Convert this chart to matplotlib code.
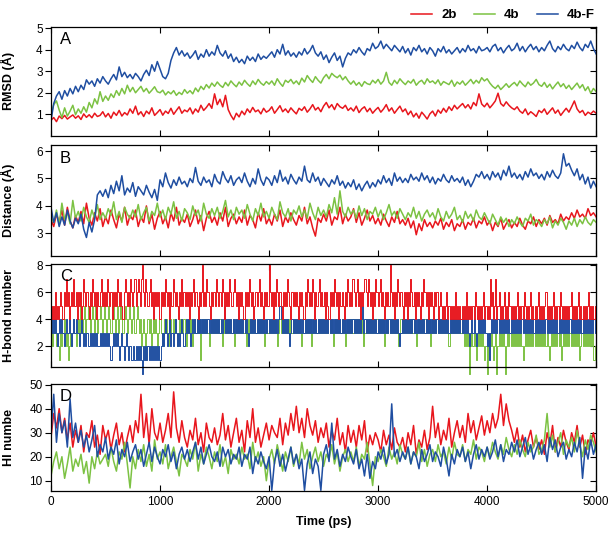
import numpy as np
import matplotlib
matplotlib.use("Agg")
import matplotlib.pyplot as plt

plt.rcParams["font.family"] = ["Liberation Sans", "DejaVu Sans"]

# time axes: 25 ps samples for A, B, D; 10 ps samples for the H-bond counts
time_ps = np.arange(0, 5001, 25)
time_hb = np.arange(0, 5001, 10)

colors = {"2b": "#e8161d", "4b": "#7cc243", "4b-F": "#1f4ea1"}

# -------------------------
# A) RMSD (A)
# -------------------------
rmsd_2b = [
    0.72, 0.85, 0.66, 0.92, 0.80, 0.95, 0.78, 0.88, 0.97, 0.82,
    0.93, 0.76, 1.02, 0.86, 0.98, 0.84, 1.05, 0.90, 0.95, 1.12,
    0.88, 1.04, 0.82, 1.10, 0.95, 1.18, 0.92, 1.08, 0.97, 1.25,
    1.05, 1.38, 0.98, 1.12, 0.90, 1.15, 1.02, 1.30, 0.95, 1.08,
    1.22, 0.96, 1.15, 1.04, 1.28, 1.00, 1.18, 1.35, 1.05, 1.20,
    1.12, 1.30, 1.02, 1.25, 1.10, 1.42, 1.18, 1.32, 1.50, 1.28,
    1.95, 1.45, 1.70, 1.35, 1.88, 1.22, 0.95, 0.75, 1.05, 0.88,
    1.15, 0.98, 1.25, 1.08, 1.32, 1.12, 1.20, 1.02, 1.28, 1.10,
    1.18, 1.35, 1.05, 1.22, 1.40, 1.12, 1.25, 1.08, 1.30, 1.15,
    1.02, 1.28, 1.18, 1.35, 1.10, 1.25, 1.45, 1.20, 1.32, 1.12,
    1.38, 1.55, 1.30, 1.45, 1.22, 1.50, 1.35, 1.28, 1.42, 1.18,
    1.30, 1.15, 1.38, 1.08, 1.25, 1.35, 1.12, 1.28, 1.05, 1.20,
    1.32, 1.10, 1.25, 1.45, 1.15, 1.30, 1.05, 1.22, 1.38, 1.12,
    1.25, 0.98, 1.15, 0.88, 1.05, 0.82, 1.10, 0.95, 0.78, 1.02,
    1.15, 0.92, 1.20, 1.05, 1.28, 1.10, 1.35, 1.18, 1.42, 1.25,
    1.38, 1.50, 1.30, 1.45, 1.25, 1.55, 1.40, 1.95, 1.48, 1.35,
    1.52, 1.30, 1.45, 1.62, 1.98, 1.50, 1.38, 1.58, 1.42, 1.30,
    1.22, 1.35, 1.15, 1.05, 1.25, 0.98, 1.12, 1.02, 0.90, 1.18,
    1.08, 1.25, 1.00, 1.15, 1.30, 1.05, 1.20, 0.95, 1.12, 1.28,
    1.10, 1.35, 1.62, 1.25, 1.08, 1.18, 0.95, 1.10, 1.02, 1.15,
    1.05,
]
rmsd_4b = [
    1.00, 1.45, 1.62, 1.20, 0.85, 1.30, 0.92, 1.15, 1.42, 0.98,
    1.25, 1.05, 1.35, 1.10, 1.55, 1.30, 1.72, 1.48, 2.05, 1.60,
    1.85, 1.65, 1.95, 1.78, 2.10, 1.88, 2.20, 1.95, 2.35, 2.05,
    2.25, 2.00, 2.15, 2.30, 2.05, 2.20, 1.98, 2.12, 2.28, 2.05,
    2.00, 2.12, 1.90, 2.05, 1.95, 2.10, 1.88, 2.02, 1.92, 2.15,
    1.98, 2.10, 1.95, 2.22, 2.05, 2.30, 2.15, 2.38, 2.22, 2.45,
    2.30, 2.50, 2.35, 2.25, 2.48, 2.32, 2.55, 2.40, 2.28, 2.50,
    2.35, 2.58, 2.42, 2.30, 2.55, 2.38, 2.62, 2.45, 2.35, 2.52,
    2.40, 2.55, 2.35, 2.65, 2.45, 2.30, 2.58, 2.48, 2.62, 2.42,
    2.55, 2.38, 2.68, 2.50, 2.80, 2.62, 2.48, 2.75, 2.58, 2.45,
    2.70, 2.85, 2.65, 2.90, 2.78, 2.70, 2.82, 2.60, 2.75, 2.55,
    2.40, 2.55, 2.35, 2.48, 2.30, 2.52, 2.42, 2.38, 2.58, 2.45,
    2.62, 2.40, 2.55, 2.95, 2.48, 2.35, 2.58, 2.42, 2.65, 2.50,
    2.38, 2.55, 2.45, 2.62, 2.35, 2.50, 2.58, 2.40, 2.65, 2.48,
    2.55, 2.42, 2.60, 2.35, 2.52, 2.45, 2.38, 2.58, 2.30, 2.50,
    2.40, 2.55, 2.35, 2.48, 2.62, 2.42, 2.58, 2.45, 2.70, 2.55,
    2.65, 2.45, 2.30, 2.20, 2.35, 2.15, 2.28, 2.42, 2.25, 2.38,
    2.48, 2.32, 2.55, 2.40, 2.28, 2.50, 2.35, 2.45, 2.62, 2.38,
    2.30, 2.48, 2.25, 2.40, 2.18, 2.35, 2.50, 2.28, 2.42, 2.20,
    2.35, 2.15, 2.30, 2.45, 2.22, 2.38, 2.10, 2.28, 1.98, 2.20,
    2.05,
]
rmsd_4bF = [
    0.70, 1.50, 1.85, 2.05, 1.70, 2.10, 1.85, 2.20, 1.95, 2.30,
    2.05, 2.35, 2.15, 2.60, 2.40, 2.55, 2.30, 2.65, 2.45, 2.75,
    2.55, 2.40, 2.65, 2.85, 2.60, 3.20, 2.75, 2.95, 2.70, 2.85,
    2.65, 2.90, 2.75, 2.55, 2.85, 3.05, 2.80, 3.30, 3.00, 3.45,
    3.10, 2.75, 2.65, 2.90, 3.50, 3.85, 4.10, 3.75, 3.95, 3.70,
    3.85, 3.60, 3.75, 3.95, 3.55, 3.80, 3.65, 4.00, 3.70, 3.90,
    3.75, 4.20, 3.85, 3.70, 3.95, 3.60, 3.80, 3.45, 3.65, 3.40,
    3.55, 3.35, 3.70, 3.50, 3.65, 3.45, 3.80, 3.55, 3.70, 3.60,
    3.75, 3.90, 3.65, 4.00, 3.80, 4.25, 3.75, 3.95, 3.70, 3.85,
    3.65, 3.90, 3.75, 4.05, 3.80, 3.95, 4.20, 3.85, 3.70, 3.90,
    3.55, 3.75, 3.40, 3.65, 3.85, 3.50, 3.70, 3.20, 3.60, 3.85,
    3.75, 4.00, 3.85, 4.10, 3.90, 3.75, 4.05, 3.95, 4.30, 4.05,
    4.15, 4.40, 4.05, 4.25, 4.10, 3.95, 4.20, 4.05, 3.90, 4.15,
    3.85, 4.05, 3.75, 4.10, 3.95, 4.20, 3.90, 4.05, 3.80, 4.10,
    3.95, 3.70, 4.05, 3.90, 4.15, 3.85, 4.00, 3.80, 3.95, 4.10,
    3.85, 4.05, 3.90, 4.20, 3.95, 4.05, 3.85, 4.15, 3.95, 4.00,
    4.10, 3.90, 4.15, 4.25, 3.95, 4.10, 3.85, 4.05, 4.20, 3.95,
    4.05, 4.30, 3.95, 4.15, 3.90, 4.10, 4.25, 4.00, 4.15, 3.90,
    4.10, 3.95, 4.20, 4.40, 4.05, 3.90, 4.15, 4.00, 4.25, 4.05,
    3.95, 4.20, 4.05, 4.35, 4.10, 3.95, 4.25, 4.10, 4.40, 4.05,
    3.80,
]

# -------------------------
# B) Distance (A)
# -------------------------
dist_2b = [
    3.50, 3.25, 3.70, 3.40, 3.85, 3.30, 3.95, 3.45, 3.20, 3.65,
    3.40, 3.80, 3.35, 4.10, 3.55, 3.30, 3.75, 3.45, 3.90, 3.25,
    3.60, 3.35, 3.85, 3.50, 3.20, 3.70, 3.45, 3.95, 3.30, 3.65,
    3.50, 3.85, 3.25, 3.60, 3.40, 4.00, 3.35, 3.70, 3.15, 3.55,
    3.80, 3.35, 3.60, 3.20, 3.75, 3.45, 3.95, 3.30, 3.55, 3.40,
    3.70, 3.25, 3.50, 3.85, 3.35, 3.65, 3.10, 3.55, 3.80, 3.40,
    3.60, 3.30, 3.75, 3.45, 3.95, 3.25, 3.55, 3.70, 3.35, 3.60,
    3.40, 3.85, 3.30, 3.65, 3.50, 3.20, 3.75, 3.45, 3.90, 3.35,
    3.55, 3.30, 3.70, 3.45, 3.85, 3.25, 3.60, 3.40, 3.75, 3.50,
    3.30, 3.65, 3.45, 3.95, 3.35, 3.60, 3.20, 2.90, 3.55, 3.40,
    3.70, 3.45, 3.85, 3.30, 3.60, 3.50, 3.95, 3.35, 3.70, 3.45,
    3.60, 3.90, 3.40, 3.75, 3.30, 3.55, 3.85, 3.45, 3.65, 3.35,
    3.55, 3.30, 3.70, 3.45, 3.25, 3.60, 3.40, 3.80, 3.35, 3.50,
    3.30, 3.55, 3.20, 3.45, 2.95, 3.35, 3.10, 3.50, 3.25, 3.40,
    3.20, 3.45, 3.30, 3.55, 3.15, 3.40, 3.25, 3.50, 3.10, 3.35,
    3.25, 3.50, 3.15, 3.40, 3.30, 3.55, 3.20, 3.45, 3.35, 3.60,
    3.30, 3.45, 3.10, 3.40, 3.25, 3.55, 3.15, 3.35, 3.50, 3.20,
    3.40, 3.25, 3.55, 3.30, 3.15, 3.45, 3.35, 3.60, 3.25, 3.50,
    3.35, 3.55, 3.30, 3.65, 3.40, 3.50, 3.35, 3.70, 3.45, 3.60,
    3.50, 3.75, 3.55, 3.85, 3.60, 3.70, 3.55, 3.90, 3.65, 3.75,
    3.60,
]
dist_4b = [
    3.60, 3.40, 3.85, 3.30, 4.10, 3.50, 3.75, 3.35, 4.20, 3.55,
    3.80, 3.45, 3.95, 3.60, 3.40, 3.85, 3.55, 4.05, 3.50, 3.75,
    3.55, 3.90, 3.65, 4.15, 3.50, 3.80, 3.40, 3.95, 3.70, 3.55,
    3.85, 3.60, 4.05, 3.50, 3.75, 3.95, 3.45, 3.80, 3.65, 4.10,
    3.60, 3.85, 3.50, 3.95, 3.70, 4.15, 3.55, 3.80, 3.45, 3.90,
    3.75, 3.50, 4.00, 3.65, 3.85, 3.45, 4.10, 3.70, 3.55, 3.90,
    3.65, 3.95, 3.55, 3.80, 4.20, 3.60, 3.85, 3.50, 3.95, 3.70,
    3.85, 3.55, 4.05, 3.70, 3.45, 3.90, 3.65, 4.10, 3.60, 3.80,
    3.55, 3.95, 3.70, 3.50, 4.15, 3.75, 3.60, 3.90, 3.45, 3.85,
    3.70, 4.00, 3.60, 3.85, 3.55, 4.10, 3.75, 3.50, 3.95, 3.65,
    3.85, 3.60, 4.05, 3.75, 4.30, 3.70, 4.55, 3.80, 3.60, 3.95,
    3.70, 3.85, 3.55, 4.00, 3.65, 3.90, 3.50, 3.80, 3.70, 3.95,
    3.60, 3.85, 3.50, 3.75, 4.05, 3.65, 3.80, 3.55, 3.90, 3.70,
    3.50, 3.75, 3.60, 3.95, 3.55, 3.80, 3.45, 3.70, 3.85, 3.60,
    3.75, 3.50, 3.90, 3.60, 3.45, 3.80, 3.55, 3.70, 3.95, 3.50,
    3.65, 3.40, 3.80, 3.55, 3.70, 3.45, 3.85, 3.60, 3.50, 3.75,
    3.55, 3.35, 3.70, 3.50, 3.30, 3.60, 3.40, 3.55, 3.25, 3.50,
    3.35, 3.60, 3.40, 3.25, 3.55, 3.45, 3.70, 3.30, 3.50, 3.40,
    3.25, 3.50, 3.35, 3.60, 3.20, 3.45, 3.30, 3.55, 3.40, 3.15,
    3.45, 3.30, 3.55, 3.25, 3.50, 3.35, 3.60, 3.40, 3.30, 3.50,
    3.40,
]
dist_4bF = [
    3.95, 3.40, 3.75, 3.25, 3.60, 3.30, 3.85, 3.45, 3.20, 3.55,
    3.35, 3.70, 3.15, 2.85, 3.40, 3.05, 3.50, 4.40, 4.55, 4.35,
    4.60, 4.30, 4.75, 4.45, 4.90, 4.55, 5.10, 4.40, 4.65, 4.50,
    4.85, 4.35, 4.70, 4.55, 4.40, 4.75, 4.50, 4.30, 4.60, 4.20,
    4.95, 4.70, 5.20, 4.85, 4.65, 4.95, 4.75, 5.05, 4.80, 4.90,
    4.70, 5.00, 4.85, 5.40, 4.90, 4.75, 5.05, 4.85, 4.95, 4.70,
    5.15, 4.90, 4.80, 5.25, 5.00, 4.85, 5.10, 4.75, 4.95, 5.05,
    4.85, 5.20, 4.90, 4.70, 5.00, 4.80, 5.35, 4.95, 4.75, 5.05,
    4.95, 4.75, 5.10, 4.85, 5.30, 4.90, 5.05, 4.80, 5.15, 4.95,
    4.80, 5.05, 4.90, 5.45, 4.95, 4.85, 5.20, 4.90, 5.05, 4.75,
    5.00, 4.85, 4.70, 4.95, 4.80, 5.10, 4.75, 4.90, 4.65, 4.85,
    4.70, 4.95, 4.60, 4.80, 4.55, 4.75, 4.90, 4.65, 4.85, 4.70,
    4.95, 4.80, 5.10, 4.85, 5.00, 4.75, 5.20, 4.90, 5.05, 4.85,
    5.00, 4.85, 5.15, 4.95, 5.05, 4.90, 5.20, 4.95, 5.10, 4.85,
    5.05, 4.80, 5.00, 4.90, 5.15, 4.95, 4.85, 5.10, 4.90, 5.00,
    4.85, 5.05, 4.75, 4.95, 4.70, 4.90, 5.15, 5.05, 5.25, 5.00,
    5.15, 4.95, 5.25, 5.05, 5.20, 4.95, 5.30, 5.10, 5.45, 5.05,
    5.20, 5.00, 5.15, 4.95, 5.25, 5.05, 5.35, 5.10, 5.20, 5.00,
    5.15, 4.95, 5.25, 5.05, 5.30, 5.10, 5.00, 5.20, 5.90, 5.45,
    5.55, 5.30, 5.10, 5.35, 4.95, 5.15, 4.80, 5.05, 4.65, 4.90,
    4.70,
]

# -------------------------
# C) H-bond number (10 ps samples, 25 per row = 250 ps)
# -------------------------
hb_2b = [
    5, 4, 5, 4, 6, 4, 5, 4, 5, 6, 5, 4, 6, 5, 7, 5, 6, 4, 5, 6, 5, 7, 5, 6, 4,
    6, 5, 6, 4, 5, 7, 6, 5, 6, 5, 4, 6, 5, 7, 6, 5, 6, 4, 6, 5, 6, 7, 5, 6, 5,
    6, 5, 7, 6, 5, 6, 4, 6, 5, 6, 5, 7, 6, 5, 6, 5, 4, 6, 7, 6, 5, 6, 5, 7, 6,
    5, 6, 7, 5, 6, 7, 6, 5, 7, 8, 6, 5, 7, 6, 5, 6, 7, 5, 6, 4, 6, 5, 6, 5, 6,
    4, 6, 5, 6, 5, 7, 6, 5, 6, 4, 6, 5, 7, 6, 5, 6, 5, 4, 6, 5, 7, 5, 6, 5, 6,
    5, 6, 4, 6, 5, 6, 7, 5, 6, 5, 4, 6, 5, 6, 8, 5, 6, 5, 7, 6, 5, 4, 6, 5, 6,
    6, 5, 7, 6, 5, 6, 5, 7, 6, 4, 6, 5, 6, 5, 7, 6, 5, 6, 7, 6, 5, 6, 4, 6, 5,
    6, 5, 4, 6, 5, 6, 5, 7, 6, 5, 6, 4, 5, 6, 5, 6, 7, 5, 6, 5, 4, 6, 5, 6, 5,
    8, 6, 5, 6, 4, 6, 5, 7, 6, 5, 6, 5, 4, 6, 5, 6, 5, 7, 6, 5, 4, 6, 5, 6, 5,
    6, 5, 4, 6, 5, 6, 5, 4, 6, 5, 7, 6, 5, 6, 5, 7, 6, 4, 6, 5, 6, 7, 5, 6, 5,
    5, 6, 4, 6, 5, 4, 6, 5, 6, 5, 7, 6, 5, 6, 4, 6, 5, 6, 5, 4, 6, 5, 7, 6, 5,
    6, 5, 7, 6, 5, 6, 7, 5, 6, 4, 6, 5, 6, 7, 6, 5, 7, 6, 5, 6, 4, 6, 5, 7, 6,
    5, 6, 7, 5, 6, 5, 4, 6, 5, 6, 5, 8, 6, 5, 6, 4, 6, 5, 7, 6, 5, 6, 5, 4, 6,
    5, 6, 4, 6, 5, 7, 6, 5, 6, 4, 6, 5, 6, 5, 4, 6, 5, 7, 6, 5, 6, 4, 6, 5, 6,
    5, 4, 6, 5, 6, 4, 5, 6, 5, 4, 5, 4, 5, 6, 4, 5, 4, 5, 4, 5, 4, 6, 4, 5, 4,
    5, 4, 5, 4, 5, 4, 6, 4, 5, 4, 5, 4, 5, 4, 6, 5, 4, 5, 4, 5, 4, 5, 6, 4, 5,
    4, 5, 4, 7, 5, 6, 4, 5, 7, 4, 5, 6, 4, 5, 4, 5, 6, 4, 5, 4, 6, 5, 4, 5, 4,
    5, 4, 5, 6, 4, 5, 4, 5, 4, 6, 5, 4, 5, 4, 5, 6, 4, 5, 4, 5, 4, 5, 6, 4, 5,
    4, 5, 4, 5, 6, 4, 5, 4, 5, 4, 5, 6, 4, 5, 4, 5, 4, 6, 5, 4, 5, 4, 5, 4, 5,
    4, 5, 6, 4, 5, 4, 5, 4, 5, 6, 4, 5, 4, 5, 4, 5, 4, 5, 6, 4, 5, 4, 5, 4, 5,
    4,
]
hb_4b = [
    3, 2, 3, 4, 3, 2, 3, 2, 1, 3, 2, 3, 4, 3, 2, 3, 1, 2, 3, 2, 3, 4, 3, 2, 3,
    4, 3, 5, 4, 3, 4, 5, 3, 4, 5, 4, 3, 4, 5, 4, 3, 5, 4, 3, 4, 5, 4, 3, 4, 5,
    4, 3, 4, 5, 4, 3, 4, 5, 4, 3, 4, 5, 3, 4, 5, 4, 3, 4, 5, 4, 3, 4, 5, 4, 3,
    4, 5, 3, 4, 5, 4, 3, 4, 2, 3, 4, 3, 1, 3, 4, 3, 4, 2, 3, 4, 3, 4, 3, 2, 3,
    4, 3, 2, 3, 4, 3, 4, 3, 2, 3, 4, 3, 4, 3, 4, 3, 2, 3, 4, 3, 4, 3, 4, 3, 2,
    3, 4, 3, 4, 3, 2, 3, 4, 3, 4, 3, 4, 1, 3, 4, 3, 4, 3, 4, 3, 2, 3, 4, 3, 4,
    3, 4, 3, 4, 3, 4, 3, 2, 3, 4, 3, 4, 3, 4, 3, 4, 3, 4, 2, 3, 4, 3, 4, 3, 4,
    3, 4, 3, 4, 2, 3, 4, 3, 4, 3, 4, 3, 4, 3, 4, 3, 4, 3, 4, 3, 4, 2, 3, 4, 3,
    4, 3, 4, 3, 4, 3, 4, 3, 2, 3, 4, 3, 4, 3, 4, 3, 4, 3, 4, 3, 4, 3, 4, 3, 4,
    3, 4, 3, 4, 3, 2, 3, 4, 3, 4, 3, 4, 3, 4, 2, 3, 4, 3, 4, 3, 4, 3, 4, 3, 4,
    3, 4, 3, 4, 3, 4, 3, 4, 3, 2, 3, 4, 3, 4, 3, 4, 3, 4, 3, 4, 2, 3, 4, 3, 4,
    3, 4, 3, 4, 3, 4, 3, 4, 3, 4, 3, 4, 2, 3, 4, 3, 4, 3, 4, 3, 4, 3, 4, 3, 4,
    3, 4, 3, 4, 3, 4, 2, 3, 4, 3, 4, 3, 4, 3, 4, 3, 4, 3, 4, 2, 3, 4, 3, 4, 3,
    4, 3, 4, 3, 4, 3, 4, 3, 4, 3, 2, 3, 4, 3, 4, 3, 4, 3, 4, 3, 4, 3, 4, 2, 3,
    4, 3, 4, 3, 4, 3, 4, 3, 4, 3, 4, 3, 4, 3, 4, 2, 3, 4, 3, 4, 3, 4, 3, 4, 3,
    4, 3, 4, 3, 2, 3, 2, 3, 2, 0, 2, 3, 2, 3, 2, 1, 2, 3, 2, 3, 2, 3, 2, 1, 2,
    0, 2, 3, 2, 3, 2, 1, 2, 3, 0, 2, 3, 2, 3, 2, 3, 2, 0, 2, 3, 2, 3, 2, 3, 2,
    3, 2, 3, 2, 3, 2, 3, 2, 1, 2, 3, 2, 3, 2, 3, 2, 3, 2, 3, 2, 3, 2, 3, 2, 3,
    2, 3, 2, 3, 2, 3, 2, 1, 2, 3, 2, 3, 2, 3, 2, 3, 2, 3, 1, 2, 3, 2, 3, 2, 3,
    2, 3, 2, 3, 2, 3, 2, 3, 2, 3, 1, 2, 3, 2, 3, 2, 3, 2, 3, 2, 3, 2, 3, 1, 2,
    3,
]
hb_4bF = [
    4, 3, 4, 3, 4, 3, 2, 3, 4, 3, 4, 3, 2, 3, 4, 3, 3, 4, 3, 2, 3, 4, 3, 4, 3,
    3, 2, 3, 4, 3, 2, 3, 2, 3, 2, 2, 3, 2, 3, 2, 3, 2, 3, 2, 2, 3, 2, 3, 2, 3,
    2, 3, 2, 3, 2, 1, 2, 3, 2, 3, 2, 3, 2, 1, 2, 3, 2, 1, 2, 3, 2, 1, 2, 2, 1,
    1, 2, 1, 2, 1, 2, 1, 2, 1, 0, 2, 1, 2, 1, 2, 1, 2, 1, 2, 1, 2, 1, 2, 1, 2,
    1, 2, 3, 2, 3, 4, 3, 2, 3, 4, 2, 3, 2, 3, 4, 3, 2, 3, 2, 3, 4, 3, 2, 3, 4,
    3, 4, 3, 2, 3, 4, 3, 4, 3, 4, 3, 4, 3, 4, 3, 4, 3, 4, 3, 4, 3, 4, 3, 4, 3,
    4, 3, 4, 3, 4, 3, 4, 3, 4, 5, 3, 4, 3, 4, 3, 4, 3, 4, 3, 4, 3, 4, 3, 4, 3,
    4, 3, 4, 3, 4, 3, 2, 3, 4, 3, 4, 3, 4, 3, 4, 3, 4, 3, 4, 3, 4, 3, 4, 3, 4,
    3, 4, 3, 4, 3, 4, 3, 4, 3, 4, 5, 4, 3, 4, 3, 4, 3, 4, 3, 2, 3, 4, 3, 4, 3,
    4, 3, 4, 3, 4, 3, 4, 3, 4, 3, 4, 3, 4, 3, 4, 3, 4, 3, 4, 3, 4, 3, 4, 3, 4,
    3, 4, 3, 4, 3, 4, 3, 4, 3, 4, 3, 4, 3, 4, 3, 4, 3, 4, 3, 4, 3, 4, 3, 4, 3,
    4, 3, 4, 3, 4, 3, 4, 3, 4, 3, 4, 5, 3, 4, 3, 4, 3, 4, 3, 4, 3, 4, 3, 4, 3,
    4, 3, 4, 3, 4, 3, 4, 3, 4, 3, 4, 3, 4, 3, 4, 3, 4, 3, 4, 3, 2, 3, 4, 3, 4,
    3, 4, 3, 4, 3, 4, 3, 4, 3, 4, 3, 4, 3, 4, 3, 4, 3, 4, 3, 4, 3, 4, 3, 4, 3,
    4, 3, 4, 3, 4, 3, 4, 3, 4, 3, 4, 3, 4, 3, 4, 3, 4, 3, 4, 3, 4, 3, 4, 3, 4,
    3, 4, 3, 4, 3, 4, 3, 4, 3, 2, 3, 4, 3, 4, 3, 2, 3, 4, 3, 4, 3, 4, 3, 4, 3,
    2, 3, 1, 3, 4, 3, 4, 3, 4, 3, 4, 3, 4, 3, 4, 3, 4, 3, 4, 3, 4, 3, 4, 3, 4,
    3, 4, 3, 4, 3, 4, 3, 4, 3, 4, 3, 4, 3, 4, 3, 4, 3, 4, 3, 4, 3, 4, 3, 4, 3,
    4, 3, 4, 3, 4, 3, 4, 3, 4, 3, 4, 3, 4, 3, 4, 3, 4, 3, 4, 3, 4, 3, 4, 3, 4,
    3, 4, 3, 4, 3, 4, 3, 4, 3, 4, 3, 4, 3, 4, 3, 4, 3, 4, 3, 4, 3, 4, 3, 4, 3,
    4,
]

# -------------------------
# D) HI number
# -------------------------
hi_2b = [
    28, 38, 32, 40, 30, 36, 27, 34, 24, 31,
    26, 33, 22, 30, 28, 35, 24, 29, 21, 33,
    27, 31, 23, 29, 34, 25, 30, 22, 28, 33,
    26, 35, 30, 46, 28, 38, 25, 40, 30, 27,
    34, 26, 31, 38, 28, 47, 32, 26, 35, 28,
    24, 31, 27, 36, 25, 30, 22, 34, 28, 26,
    32, 25, 29, 38, 27, 33, 24, 30, 36, 26,
    31, 22, 35, 28, 40, 26, 32, 24, 29, 34,
    27, 33, 30, 28, 36, 25, 34, 29, 38, 31,
    41, 30, 36, 28, 40, 33, 29, 35, 26, 32,
    28, 34, 24, 31, 27, 36, 25, 30, 22, 33,
    26, 31, 24, 33, 27, 35, 22, 29, 25, 30,
    27, 22, 31, 25, 29, 23, 32, 26, 24, 28,
    22, 30, 25, 33, 21, 27, 24, 31, 23, 28,
    41, 28, 34, 25, 31, 27, 36, 24, 30, 35,
    28, 33, 26, 38, 30, 35, 27, 32, 37, 29,
    35, 30, 38, 32, 36, 46, 33, 42, 35, 31,
    26, 32, 24, 29, 22, 27, 31, 24, 28, 23,
    27, 21, 30, 25, 33, 22, 28, 24, 31, 26,
    23, 30, 26, 33, 24, 29, 21, 27, 25, 30,
    24,
]
hi_4b = [
    12, 18, 22, 15, 20, 11, 17, 24, 14, 19,
    16, 21, 13, 18, 9, 20, 15, 22, 17, 19,
    21, 16, 24, 18, 14, 22, 19, 26, 17, 7,
    20, 15, 23, 18, 25, 16, 21, 14, 27, 19,
    22, 17, 25, 15, 20, 24, 18, 12, 21, 19,
    16, 23, 19, 26, 14, 21, 17, 24, 20, 15,
    22, 18, 25, 16, 20, 13, 23, 19, 21, 17,
    24, 19, 21, 15, 26, 18, 22, 16, 20, 10,
    19, 23, 17, 25, 20, 14, 22, 18, 24, 16,
    21, 17, 26, 19, 23, 15, 20, 24, 18, 22,
    16, 21, 19, 25, 17, 22, 14, 20, 23, 18,
    22, 18, 24, 16, 21, 19, 26, 17, 8, 20,
    18, 23, 20, 16, 24, 19, 22, 17, 25, 21,
    19, 24, 17, 22, 20, 26, 18, 23, 16, 21,
    23, 18, 25, 20, 22, 17, 24, 19, 26, 21,
    20, 25, 18, 23, 21, 27, 19, 24, 22, 18,
    24, 20, 26, 22, 19, 25, 21, 28, 23, 20,
    25, 21, 27, 23, 20, 26, 22, 24, 29, 21,
    23, 27, 38, 24, 29, 22, 26, 30, 21, 27,
    24, 28, 22, 31, 25, 20, 27, 23, 29, 26,
    22,
]
hi_4bF = [
    30, 46, 26, 38, 30, 35, 24, 44, 28, 34,
    26, 31, 24, 29, 22, 27, 33, 20, 25, 22,
    28, 19, 24, 21, 27, 17, 23, 20, 26, 18,
    22, 25, 19, 23, 16, 21, 26, 18, 24, 20,
    17, 23, 20, 25, 18, 22, 15, 21, 24, 19,
    23, 18, 22, 26, 19, 24, 17, 21, 25, 20,
    18, 22, 16, 24, 20, 23, 17, 21, 19, 24,
    16, 21, 19, 24, 13, 20, 17, 22, 18, 15,
    20, 6, 18, 23, 16, 21, 14, 19, 24, 17,
    21, 15, 19, 6, 17, 22, 13, 19, 16, 6,
    21, 25, 18, 34, 19, 23, 16, 21, 18, 24,
    20, 17, 23, 15, 19, 12, 21, 11, 18, 15,
    22, 19, 24, 17, 21, 42, 20, 23, 18, 22,
    19, 24, 17, 22, 20, 15, 23, 18, 21, 25,
    18, 22, 20, 16, 24, 19, 12, 21, 17, 23,
    20, 24, 18, 22, 15, 21, 25, 19, 23, 20,
    24, 19, 22, 27, 20, 25, 18, 23, 21, 26,
    22, 27, 20, 24, 28, 21, 25, 19, 23, 26,
    21, 25, 18, 28, 23, 27, 20, 24, 26, 19,
    23, 20, 26, 22, 28, 11, 24, 19, 27, 21,
    25,
]

x_ticks = [0, 1000, 2000, 3000, 4000, 5000]

fig = plt.figure(figsize=(6.16, 5.37), dpi=100)

# panel rectangles in figure fractions (left, bottom, width, height)
left, width = 0.0828, 0.885
ax_a = fig.add_axes([left, 0.747, width, 0.203])
ax_b = fig.add_axes([left, 0.523, width, 0.207])
ax_c = fig.add_axes([left, 0.317, width, 0.192])
ax_d = fig.add_axes([left, 0.086, width, 0.199])

lw = 1.1

# A
ax_a.plot(time_ps, rmsd_2b, color=colors["2b"], lw=lw, label="2b")
ax_a.plot(time_ps, rmsd_4b, color=colors["4b"], lw=lw, label="4b")
ax_a.plot(time_ps, rmsd_4bF, color=colors["4b-F"], lw=lw, label="4b-F")
ax_a.set_ylim(0, 5.06)
ax_a.set_yticks([1, 2, 3, 4, 5])
ax_a.set_ylabel("RMSD (Å)")

# B
ax_b.plot(time_ps, dist_2b, color=colors["2b"], lw=lw)
ax_b.plot(time_ps, dist_4b, color=colors["4b"], lw=lw)
ax_b.plot(time_ps, dist_4bF, color=colors["4b-F"], lw=lw)
ax_b.set_ylim(2.17, 6.22)
ax_b.set_yticks([3, 4, 5, 6])
ax_b.set_ylabel("Distance (Å)")

# C - integer counts, green under blue under red
ax_c.plot(time_hb, hb_4b, color=colors["4b"], lw=0.7, drawstyle="steps-mid", clip_on=False)
ax_c.plot(time_hb, hb_4bF, color=colors["4b-F"], lw=0.7, drawstyle="steps-mid", clip_on=False)
ax_c.plot(time_hb, hb_2b, color=colors["2b"], lw=0.7, drawstyle="steps-mid", clip_on=False)
ax_c.set_ylim(0.5, 8.1)
ax_c.set_yticks([2, 4, 6, 8])
ax_c.set_ylabel("H-bond number")

# D
ax_d.plot(time_ps, hi_2b, color=colors["2b"], lw=lw)
ax_d.plot(time_ps, hi_4b, color=colors["4b"], lw=lw)
ax_d.plot(time_ps, hi_4bF, color=colors["4b-F"], lw=lw)
ax_d.set_ylim(5.8, 50.3)
ax_d.set_yticks([10, 20, 30, 40, 50])
ax_d.set_ylabel("HI numbe")
ax_d.set_xlabel("Time (ps)", fontsize=9, fontweight="bold", labelpad=6)

for ax, letter in zip([ax_a, ax_b, ax_c, ax_d], ["A", "B", "C", "D"]):
    ax.set_xlim(0, 5000)
    ax.set_xticks(x_ticks)
    ax.tick_params(axis="x", direction="in", top=True, bottom=True,
                   length=4, labelsize=8.5)
    ax.tick_params(axis="y", direction="out", left=True, right=False,
                   length=4, labelsize=8.5, pad=2)
    if ax is not ax_d:
        ax.tick_params(axis="x", labelbottom=False)
    right = ax.secondary_yaxis("right")
    right.set_yticks(ax.get_yticks())
    right.tick_params(direction="in", length=4, labelright=False)
    ax.yaxis.label.set_fontsize(9)
    ax.yaxis.label.set_fontweight("bold")
    ax.yaxis.set_label_coords(-0.066, 0.5)
    ax.text(0.016, 0.95, letter, transform=ax.transAxes, fontsize=12,
            va="top", ha="left")
    for sp in ax.spines.values():
        sp.set_linewidth(0.9)

fig.legend(*ax_a.get_legend_handles_labels(), loc="upper right",
           bbox_to_anchor=(0.985, 1.005), ncol=3, frameon=False,
           handlelength=1.6, handletextpad=0.7, columnspacing=1.3,
           prop={"weight": "bold", "size": 9.5})

fig.savefig("out.png", dpi=100)
